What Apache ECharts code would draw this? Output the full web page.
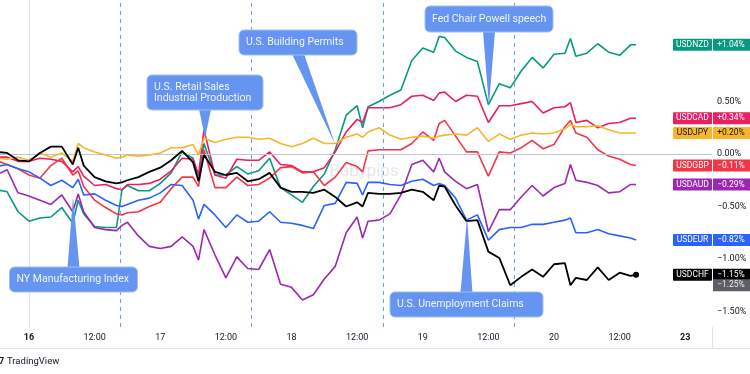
<!DOCTYPE html>
<html><head><meta charset="utf-8">
<script src="https://cdn.jsdelivr.net/npm/echarts@6/dist/echarts.min.js"></script>
<style>html,body{margin:0;padding:0;background:#fff}#c{width:750px;height:374px}</style>
</head><body><div id="c"></div>
<script>
// time in hours from day 16 00:00 (weekend removed)
const times = [-6,-4,-2,0,2,4,6,8,9,10,12,14,16,17,18,20,22,24,26,28,30,31,32,34,36,38,40,42,44,46,48,50,52,54,56,58,60,61,62,64,66,68,70,72,74,75,76,78,80,82,84,86,88,90,92,94,96,98,99,100,102,104,106,108,110,111];

const usdnzd = [-0.34,-0.36,-0.55,-0.64,-0.61,-0.60,-0.51,-0.66,-0.44,-0.57,-0.69,-0.70,-0.70,-0.34,-0.30,-0.35,-0.35,-0.28,-0.18,0.02,-0.04,-0.21,0.10,-0.20,-0.20,-0.12,-0.19,-0.16,-0.04,-0.32,-0.39,-0.46,-0.31,-0.19,0.04,0.37,0.46,0.25,0.45,0.50,0.56,0.61,0.89,1.01,0.97,1.12,1.11,0.98,0.92,0.88,0.47,0.67,0.63,0.79,0.92,0.82,0.95,0.96,1.10,0.93,0.96,1.05,0.97,0.94,1.04,1.04];
const usdcad = [-0.03,-0.03,-0.07,-0.07,-0.04,-0.05,-0.07,-0.17,-0.12,-0.21,-0.30,-0.29,-0.33,-0.34,-0.29,-0.29,-0.28,-0.24,-0.16,-0.04,-0.05,-0.20,0.23,-0.20,-0.23,-0.05,-0.06,-0.06,0.02,-0.10,-0.11,-0.17,-0.17,-0.13,0.02,0.21,0.33,0.30,0.44,0.44,0.44,0.47,0.55,0.56,0.51,0.58,0.59,0.50,0.56,0.55,0.30,0.46,0.46,0.48,0.50,0.39,0.44,0.45,0.49,0.30,0.32,0.25,0.29,0.30,0.34,0.34];
const usdgbp = [-0.06,-0.10,-0.14,-0.20,-0.23,-0.11,-0.04,-0.20,-0.16,-0.31,-0.44,-0.51,-0.57,-0.58,-0.56,-0.55,-0.50,-0.46,-0.33,-0.22,-0.22,-0.31,0.04,-0.32,-0.32,-0.22,-0.30,-0.29,-0.23,-0.13,-0.12,-0.18,-0.17,-0.30,-0.22,-0.08,-0.12,-0.17,0.03,0.04,0.04,0.04,0.10,0.21,0.13,0.29,0.32,0.17,0.02,0.02,-0.21,0.02,0.01,0.06,0.13,0.05,0.09,0.26,0.32,0.20,0.16,0.04,-0.02,-0.05,-0.10,-0.11];
const usdjpy = [-0.04,-0.05,-0.03,-0.06,0.01,-0.03,0.01,-0.07,0.10,0.06,0.02,-0.01,-0.04,-0.03,-0.01,-0.02,-0.01,0.01,0.06,0.06,0.09,-0.01,0.15,0.11,0.14,0.16,0.16,0.14,0.15,0.10,0.07,0.10,0.15,0.10,0.10,0.16,0.19,0.16,0.21,0.25,0.18,0.14,0.16,0.17,0.15,0.17,0.18,0.19,0.18,0.25,0.12,0.19,0.14,0.18,0.20,0.19,0.20,0.24,0.28,0.26,0.26,0.27,0.23,0.20,0.20,0.20];
const usdaud = [-0.20,-0.15,-0.37,-0.40,-0.44,-0.48,-0.39,-0.55,-0.38,-0.55,-0.70,-0.72,-0.73,-0.68,-0.65,-0.78,-0.88,-0.90,-0.88,-0.79,-0.88,-1.01,-0.72,-0.96,-1.18,-0.98,-1.09,-1.10,-0.91,-1.24,-1.27,-1.39,-1.34,-1.19,-1.07,-0.75,-0.60,-0.80,-0.64,-0.63,-0.57,-0.39,-0.10,-0.06,-0.17,-0.04,-0.17,-0.26,-0.33,-0.29,-0.74,-0.53,-0.53,-0.41,-0.30,-0.40,-0.32,-0.28,-0.10,-0.25,-0.27,-0.30,-0.37,-0.36,-0.29,-0.29];
const usdeur = [-0.12,-0.10,-0.14,-0.17,-0.23,-0.30,-0.25,-0.32,-0.24,-0.39,-0.38,-0.44,-0.49,-0.50,-0.48,-0.44,-0.42,-0.37,-0.29,-0.30,-0.44,-0.62,-0.48,-0.58,-0.70,-0.58,-0.65,-0.64,-0.55,-0.65,-0.66,-0.68,-0.71,-0.49,-0.47,-0.27,-0.28,-0.39,-0.27,-0.27,-0.29,-0.30,-0.26,-0.24,-0.30,-0.28,-0.30,-0.42,-0.63,-0.58,-0.82,-0.72,-0.70,-0.70,-0.67,-0.67,-0.65,-0.63,-0.61,-0.75,-0.75,-0.72,-0.76,-0.78,-0.80,-0.82];
const usdchf = [0.02,0.01,-0.06,-0.07,0.01,0.07,0.07,-0.10,0.06,-0.11,-0.22,-0.26,-0.28,-0.27,-0.25,-0.22,-0.17,-0.13,-0.06,0.03,-0.08,-0.26,-0.01,-0.17,-0.20,-0.18,-0.26,-0.24,-0.18,-0.32,-0.36,-0.36,-0.37,-0.34,-0.41,-0.50,-0.46,-0.50,-0.37,-0.38,-0.38,-0.37,-0.34,-0.36,-0.44,-0.30,-0.31,-0.49,-0.64,-0.63,-0.93,-0.99,-1.25,-1.17,-1.10,-1.17,-1.05,-1.04,-1.25,-1.18,-1.20,-1.08,-1.20,-1.13,-1.16,-1.15];

const seriesNames = ['USDNZD','USDCAD','USDGBP','USDJPY','USDAUD','USDEUR','USDCHF'];
const xTickValues = [0,12,24,36,48,60,72,84,96,108,120];
const xTickLabels = ['16','12:00','17','12:00','18','12:00','19','12:00','20','12:00','23'];
const boldTicks = ['16','23'];
const yTickValues = [-1.5,-1,-0.5,0,0.5];
const sessionMarks = [16.7,40.7,64.7,88.7];
const extraScaleValue = -1.25;
const eventTexts = ['NY Manufacturing Index','U.S. Retail Sales\nIndustrial Production','U.S. Building Permits','Fed Chair Powell speech','U.S. Unemployment Claims'];
const eventTimes = [8.05, 32.2, 56.0, 84.1, 80.1];
const eventValues = [-0.41, 0.15, 0.09, 0.46, -0.60];

// ---- styling / layout ----
const colors = ['#089981','#e91e63','#f23645','#f9b52a','#9c27b0','#2962ff','#000000'];
const tagText = ['#fff','#fff','#fff','#131722','#fff','#fff','#fff'];
const boxLayout = [ // cx, cy, w, h (pixels)
  [73.5, 279.5, 128, 25],
  [205, 92.5, 116, 35],
  [298, 42.5, 118, 25],
  [489, 19, 128, 26],
  [466.5, 304.5, 153, 25]
];
const FONT = 'Roboto, "Noto Sans", sans-serif';
const seriesData = [usdnzd, usdcad, usdgbp, usdjpy, usdaud, usdeur, usdchf];

function pctAxis(v){ return (v < 0 ? '\u2212' : '') + Math.abs(v).toFixed(2) + '%'; }
function pctTag(v){ return (v > 0 ? '+' : v < 0 ? '\u2212' : '') + Math.abs(v).toFixed(2) + '%'; }

const chart = echarts.init(document.getElementById('c'));
const lastT = times[times.length - 1];

const series = seriesData.map((arr, i) => {
  const s = {
    name: seriesNames[i], type: 'line', showSymbol: false, silent: true,
    data: times.map((t, k) => [t, arr[k]]),
    lineStyle: { width: i === 6 ? 1.8 : 1.6, color: colors[i] },
    itemStyle: { color: colors[i] },
    z: 2 + i
  };
  if (i === 0) {
    s.markLine = {
      silent: true, symbol: ['none','none'], label: { show: false },
      data: [
        { yAxis: 0, lineStyle: { color: '#c1c4cc', width: 1, type: 'solid' } }
      ].concat(sessionMarks.map(m => ({ xAxis: m, lineStyle: { color: '#6f9cf4', width: 1, type: [4,4] } })))
    };
  }
  if (i === 6) {
    s.markPoint = { silent: true, symbol: 'circle', symbolSize: 6, label: { show: false },
      itemStyle: { color: '#000' }, data: [{ coord: [lastT, arr[arr.length - 1]] }] };
  }
  return s;
});

chart.setOption({
  animation: false,
  backgroundColor: '#ffffff',
  grid: { left: 0, right: 38, top: 0, bottom: 47 },
  xAxis: {
    type: 'value', min: -5.30, max: 124.89,
    axisLine: { show: true, lineStyle: { color: '#e0e3eb' } },
    axisTick: { show: false }, splitLine: { show: false },
    axisLabel: {
      customValues: xTickValues, margin: 6, color: '#131722', fontSize: 9, fontFamily: FONT,
      formatter: v => { const i = xTickValues.indexOf(v); const l = xTickLabels[i] || ''; return boldTicks.indexOf(l) >= 0 ? '{b|' + l + '}' : l; },
      rich: { b: { fontWeight: 'bold', fontSize: 9, color: '#131722', fontFamily: FONT } }
    }
  },
  yAxis: {
    type: 'value', position: 'right', min: -1.6476, max: 1.4667,
    axisLine: { show: true, lineStyle: { color: '#e0e3eb' } },
    axisTick: { show: false }, splitLine: { show: false },
    axisLabel: { customValues: yTickValues, formatter: pctAxis, color: '#131722', fontSize: 9, margin: 5, align: 'left', fontFamily: FONT }
  },
  series: series
});

function px(t, v){ return chart.convertToPixel({ gridIndex: 0 }, [t, v]); }
const g = [];
g.push({ type: 'line', silent: true, shape: { x1: 0, y1: 348.5, x2: 750, y2: 348.5 }, style: { stroke: '#e0e3eb', lineWidth: 1 } });
g.push({ type: 'line', silent: true, shape: { x1: 712.5, y1: 327, x2: 712.5, y2: 348 }, style: { stroke: '#e0e3eb', lineWidth: 1 } });
g.push({ type: 'text', silent: true, style: { text: 'TradingView', x: 7, y: 362, fill: '#131722', font: '9.5px ' + FONT, textVerticalAlign: 'middle', verticalAlign: 'middle' } });
g.push({ type: 'text', silent: true, style: { text: '7', x: -1, y: 362, fill: '#131722', font: 'bold 9px ' + FONT, textVerticalAlign: 'middle', verticalAlign: 'middle' } });
g.push({ type: 'text', silent: true, z: 1, style: { text: 'Babypips', x: 364, y: 172, fill: 'rgba(170,175,185,0.30)', font: '17px ' + FONT, textAlign: 'center', align: 'center', textVerticalAlign: 'middle', verticalAlign: 'middle' } });

// right-side tags
function tag(y, name, value, bg, fg){
  const h = 12;
  if (name) {
    g.push({ type: 'rect', silent: true, z: 50, shape: { x: 673, y: y - h/2, width: 39, height: h, r: 1 }, style: { fill: bg } });
    g.push({ type: 'text', silent: true, z: 51, style: { text: name, x: 692.5, y: y, fill: fg, font: '8.5px ' + FONT, textAlign: 'center', align: 'center', textVerticalAlign: 'middle', verticalAlign: 'middle' } });
  }
  g.push({ type: 'rect', silent: true, z: 50, shape: { x: 713, y: y - h/2, width: 37, height: h }, style: { fill: bg } });
  g.push({ type: 'text', silent: true, z: 51, style: { text: value, x: 731, y: y, fill: fg, font: '8.5px ' + FONT, textAlign: 'center', align: 'center', textVerticalAlign: 'middle', verticalAlign: 'middle' } });
}
seriesData.forEach((arr, i) => {
  const v = arr[arr.length - 1];
  tag(px(lastT, v)[1], seriesNames[i], pctTag(v), colors[i], tagText[i]);
});
tag(px(lastT, extraScaleValue)[1], null, pctTag(extraScaleValue), '#5d5f66', '#e8e8e8');

// callouts
const BOX = '#6594f1';
eventTexts.forEach((txt, i) => {
  const [cx, cy, w, h] = boxLayout[i];
  const tip = px(eventTimes[i], eventValues[i]);
  const edge = tip[1] < cy ? cy - h/2 + 1 : cy + h/2 - 1;
  g.push({ type: 'polygon', silent: true, z: 60, shape: { points: [[cx - 6, edge], [cx + 6, edge], [tip[0], tip[1]]] }, style: { fill: BOX } });
  g.push({ type: 'rect', silent: true, z: 61, shape: { x: cx - w/2, y: cy - h/2, width: w, height: h, r: 5 }, style: { fill: BOX, stroke: '#9ec0f7', lineWidth: 1 } });
  g.push({ type: 'text', silent: true, z: 62, style: { text: txt, x: cx - w/2 + 7, y: cy, fill: '#eef3ff', font: '10.5px ' + FONT, lineHeight: 11, textVerticalAlign: 'middle', verticalAlign: 'middle' } });
});

chart.setOption({ graphic: { elements: g } });
</script></body></html>
